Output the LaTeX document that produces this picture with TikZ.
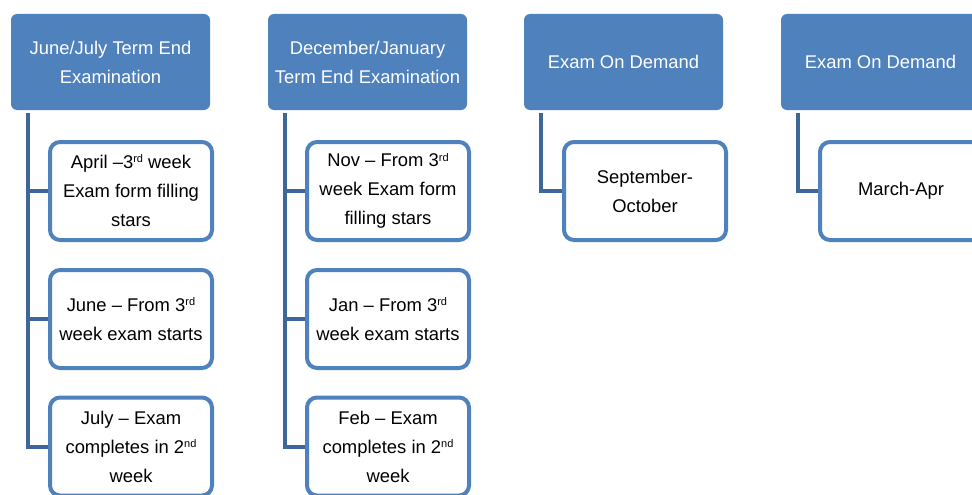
\documentclass[tikz,border=0pt]{standalone}
\usepackage{fontspec}
\setmainfont{Liberation Sans}
\usepackage{xcolor}
\usepackage{tikz}
\definecolor{accent}{HTML}{4F81BD}
\definecolor{linkc}{HTML}{3E6797}
\tikzset{
  head/.style={rectangle, rounded corners=6pt, fill=accent,
    minimum width=199pt, minimum height=96pt, text=white, align=center,
    font=\fontsize{18.4}{29}\selectfont},
  item/.style={rectangle, rounded corners=10pt, fill=white, draw=accent, line width=4pt,
    minimum width=162pt, minimum height=98pt, text=black, align=center,
    font=\fontsize{18.4}{29}\selectfont},
  conn/.style={draw=linkc, line width=4pt}
}
\newcommand{\ord}[1]{\raisebox{0.6ex}{\fontsize{11}{11}\selectfont #1}}

\begin{document}
\begin{tikzpicture}[x=1pt,y=-1pt]
  \useasboundingbox (0,0) rectangle (972,495);
  \clip (0,0) rectangle (972,495);

  % term end columns
  \node[head] (hJun) at (110.5,62) {June/July Term End\\Examination};
  \node[head] (hDec) at (367.5,62) {December/January\\Term End Examination};
  % on demand columns
  \node[head] (hSep) at (623.5,62) {Exam On Demand};
  \node[head] (hMar) at (880.5,62) {Exam On Demand};

  \node[item] (apr) at (131,191) {April –3\ord{rd} week\\Exam form filling\\stars};
  \node[item] (jun) at (131,319) {June – From 3\ord{rd}\\week exam starts};
  \node[item] (jul) at (131,446.5) {July – Exam\\completes in 2\ord{nd}\\week};

  \node[item] (nov) at (388,191) {Nov – From 3\ord{rd}\\week Exam form\\filling stars};
  \node[item] (jan) at (388,319) {Jan – From 3\ord{rd}\\week exam starts};
  \node[item] (feb) at (388,446.5) {Feb – Exam\\completes in 2\ord{nd}\\week};

  \node[item] (sep) at (645,191) {September-\\October};
  \node[item] (mar) at (901,191) {March-Apr};

  % elbow links
  \coordinate (tJun) at ([xshift=17pt,yshift=-3pt]hJun.south west);
  \coordinate (tDec) at ([xshift=17pt,yshift=-3pt]hDec.south west);
  \coordinate (tSep) at ([xshift=17pt,yshift=-3pt]hSep.south west);
  \coordinate (tMar) at ([xshift=17pt,yshift=-3pt]hMar.south west);
  \draw[conn] (tJun) |- (apr.west);
  \draw[conn] (tJun) |- (jun.west);
  \draw[conn] (tJun) |- (jul.west);
  \draw[conn] (tDec) |- (nov.west);
  \draw[conn] (tDec) |- (jan.west);
  \draw[conn] (tDec) |- (feb.west);
  \draw[conn] (tSep) |- (sep.west);
  \draw[conn] (tMar) |- (mar.west);
\end{tikzpicture}
\end{document}
